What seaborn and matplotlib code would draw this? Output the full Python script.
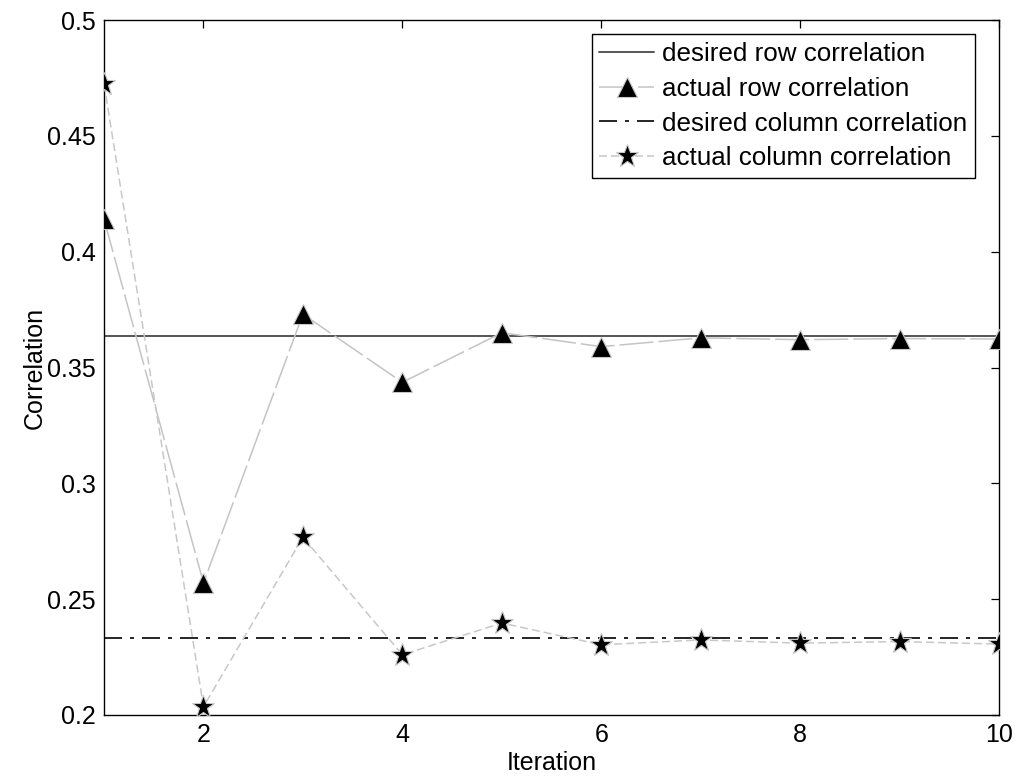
import numpy as np
import pandas as pd
import matplotlib
matplotlib.use("Agg")
import matplotlib.pyplot as plt
import seaborn as sns

# ---- data ----
iterations = [1, 2, 3, 4, 5, 6, 7, 8, 9, 10]
actual_row = [0.414, 0.257, 0.373, 0.3436, 0.365, 0.359, 0.3628, 0.362, 0.3625, 0.3623]
actual_col = [0.4724, 0.2036, 0.2767, 0.226, 0.2397, 0.2303, 0.2324, 0.231, 0.2317, 0.2306]
desired_row = 0.3637
desired_col = 0.2331
labels = ["desired row correlation", "actual row correlation",
          "desired column correlation", "actual column correlation"]
xticks = [2, 4, 6, 8, 10]
yticks = [0.2, 0.25, 0.3, 0.35, 0.4, 0.45, 0.5]
yticklabels = ["0.2", "0.25", "0.3", "0.35", "0.4", "0.45", "0.5"]

sns.set_theme(style="white")
plt.rcParams["font.family"] = ["Liberation Sans", "DejaVu Sans"]
plt.rcParams["lines.scale_dashes"] = False
plt.rcParams["text.color"] = "black"
plt.rcParams["axes.labelcolor"] = "black"
plt.rcParams["xtick.color"] = "black"
plt.rcParams["ytick.color"] = "black"
FS = 18

fig = plt.figure(figsize=(10.17, 7.82), dpi=100)
ax = fig.add_axes([0.1023, 0.0857, 0.8800, 0.8887])

df = pd.DataFrame({"it": iterations, "row": actual_row, "col": actual_col})

px = 0.72  # points per pixel at 100 dpi

ax.axhline(desired_row, color="#555555", lw=1.4, ls="-", label=labels[0], zorder=2)
sns.lineplot(data=df, x="it", y="row", ax=ax, color="#c4c4c4", lw=1.1,
             linestyle=(0, (34 * px, 5 * px)), marker="^", markersize=14,
             markerfacecolor="black", markeredgecolor="#c8c8c8", markeredgewidth=0.8,
             label=labels[1], zorder=3)
ax.axhline(desired_col, color="black", lw=1.2,
           ls=(0, (18 * px, 8 * px, 4 * px, 8 * px)), label=labels[2], zorder=2)
sns.lineplot(data=df, x="it", y="col", ax=ax, color="#c8c8c8", lw=1.1,
             linestyle=(0, (8 * px, 4 * px)), marker="*", markersize=17,
             markerfacecolor="black", markeredgecolor="#c8c8c8", markeredgewidth=0.8,
             label=labels[3], zorder=3)

ax.set_xlim(1, 10)
ax.set_ylim(0.2, 0.5)
ax.set_xticks(xticks)
ax.set_xticklabels([str(t) for t in xticks])
ax.set_yticks(yticks)
ax.set_yticklabels(yticklabels)
ax.tick_params(direction="in", length=6, width=0.9, top=True, right=True,
               labelsize=FS, color="black", labelcolor="black", pad=6)
for s in ax.spines.values():
    s.set_color("black")
    s.set_linewidth(1.0)
ax.set_xlabel("Iteration", fontsize=FS, labelpad=3, color="black")
ax.set_ylabel("Correlation", fontsize=FS, labelpad=0, color="black")

handles, labs = ax.get_legend_handles_labels()
order = [labs.index(l) for l in labels]
leg = ax.legend([handles[i] for i in order], [labs[i] for i in order],
                loc="upper right", bbox_to_anchor=(0.973, 0.980), borderaxespad=0,
                fontsize=18.7, frameon=True, fancybox=False, shadow=False,
                framealpha=1, edgecolor="black", handlelength=2.1, handletextpad=0.3,
                labelspacing=0.42, borderpad=0.3, numpoints=1)
leg.get_frame().set_linewidth(1.0)
for t in leg.get_texts():
    t.set_color("black")

fig.savefig("out.png", dpi=100)
